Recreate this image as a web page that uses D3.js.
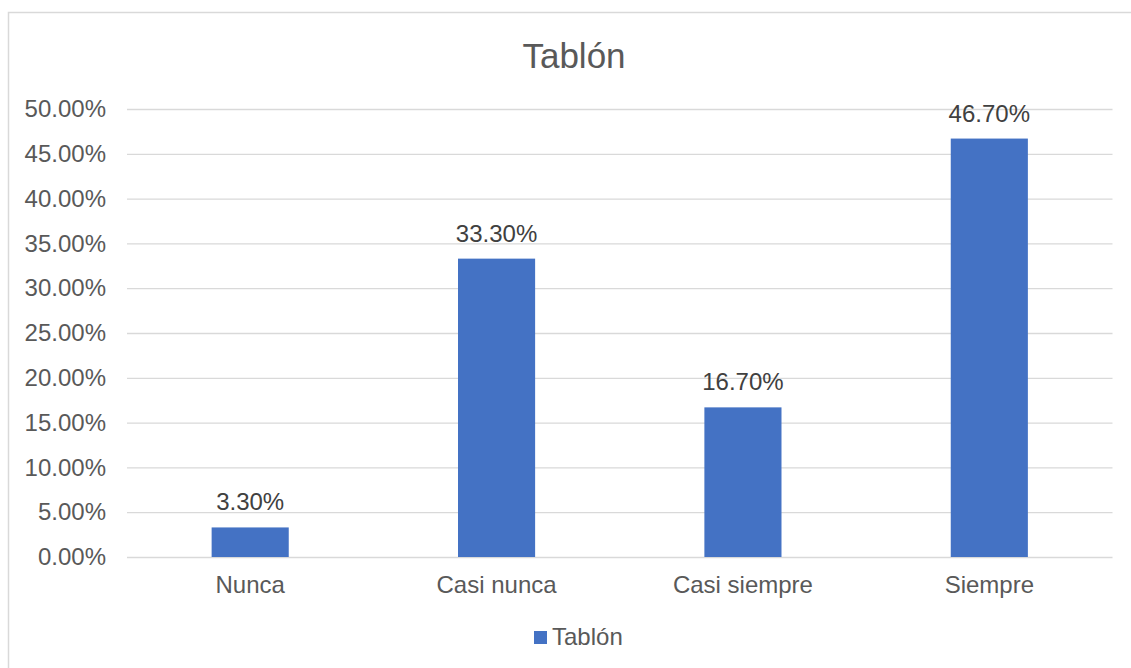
<!DOCTYPE html>
<html>
<head>
<meta charset="utf-8">
<script src="https://cdn.jsdelivr.net/npm/d3@7"></script>
<style>
  body { margin: 0; background: #fff; }
  svg { display: block; font-family: "Liberation Sans", Arial, sans-serif; }
</style>
</head>
<body>
<svg id="chart"></svg>
<script>
var categories = ['Nunca', 'Casi nunca', 'Casi siempre', 'Siempre'];
var values = [0.033, 0.333, 0.167, 0.467];
var yTicks = [0, 0.05, 0.10, 0.15, 0.20, 0.25, 0.30, 0.35, 0.40, 0.45, 0.50];
var seriesName = 'Tablón';
var chartTitle = 'Tablón';

var WIDTH = 1131, HEIGHT = 668;
var PLOT = { LEFT: 127, RIGHT: 1112.5, TOP: 109, BOTTOM: 557 };
var TEXT = '#595959', GRID = '#d9d9d9', BAR = '#4472c4';

var svg = d3.select('#chart')
    .attr('width', WIDTH)
    .attr('height', HEIGHT);

// chart frame (runs off the right and bottom of the window)
svg.append('rect')
    .attr('x', 8.5)
    .attr('y', 12.5)
    .attr('width', 1200)
    .attr('height', 700)
    .style('fill', '#fff')
    .style('stroke', GRID)
    .style('stroke-width', 1.5);

var xScale = d3.scaleBand()
    .domain(categories)
    .range([PLOT.LEFT, PLOT.RIGHT])
    .paddingInner(0.687)
    .paddingOuter(0.3435);

var yScale = d3.scaleLinear()
    .domain([0, 0.5])
    .range([PLOT.BOTTOM, PLOT.TOP]);

var fmt = d3.format('.2%');

// gridlines + y labels
var yAxis = d3.axisLeft(yScale)
    .tickValues(yTicks)
    .tickFormat(fmt)
    .tickSize(-(PLOT.RIGHT - PLOT.LEFT))
    .tickPadding(21);

var gy = svg.append('g')
    .attr('class', 'y axis')
    .attr('transform', 'translate(' + PLOT.LEFT + ',0)')
    .call(yAxis);
gy.select('.domain').remove();
gy.selectAll('line').style('stroke', GRID).style('stroke-width', 1.3);
gy.selectAll('text')
    .style('font-size', '24px')
    .style('fill', TEXT)
    .style('font-family', '"Liberation Sans", Arial, sans-serif');

// bars
svg.append('g').selectAll('rect')
    .data(values)
    .enter()
    .append('rect')
    .attr('x', function (d, i) { return xScale(categories[i]); })
    .attr('y', function (d) { return yScale(d); })
    .attr('width', xScale.bandwidth())
    .attr('height', function (d) { return yScale(0) - yScale(d); })
    .style('fill', BAR);

// data labels
svg.append('g').selectAll('text')
    .data(values)
    .enter()
    .append('text')
    .attr('x', function (d, i) { return xScale(categories[i]) + xScale.bandwidth() / 2; })
    .attr('y', function (d) { return yScale(d) - 17; })
    .attr('text-anchor', 'middle')
    .style('font-size', '24px')
    .style('fill', '#404040')
    .text(function (d) { return fmt(d); });

// x axis
var xAxis = d3.axisBottom(xScale)
    .tickSize(0)
    .tickPadding(19);
var gx = svg.append('g')
    .attr('class', 'x axis')
    .attr('transform', 'translate(0,' + PLOT.BOTTOM + ')')
    .call(xAxis);
gx.select('.domain').remove();
gx.selectAll('text')
    .style('font-size', '24px')
    .style('fill', TEXT)
    .style('font-family', '"Liberation Sans", Arial, sans-serif');

// title
svg.append('text')
    .attr('x', 574)
    .attr('y', 68)
    .attr('text-anchor', 'middle')
    .style('font-size', '35px')
    .style('fill', TEXT)
    .text(chartTitle);

// legend
var legend = svg.append('g').attr('transform', 'translate(534,631)');
legend.append('rect')
    .attr('width', 13)
    .attr('height', 13)
    .style('fill', BAR);
legend.append('text')
    .attr('x', 18)
    .attr('y', 14)
    .style('font-size', '24px')
    .style('fill', TEXT)
    .text(seriesName);
</script>
</body>
</html>
